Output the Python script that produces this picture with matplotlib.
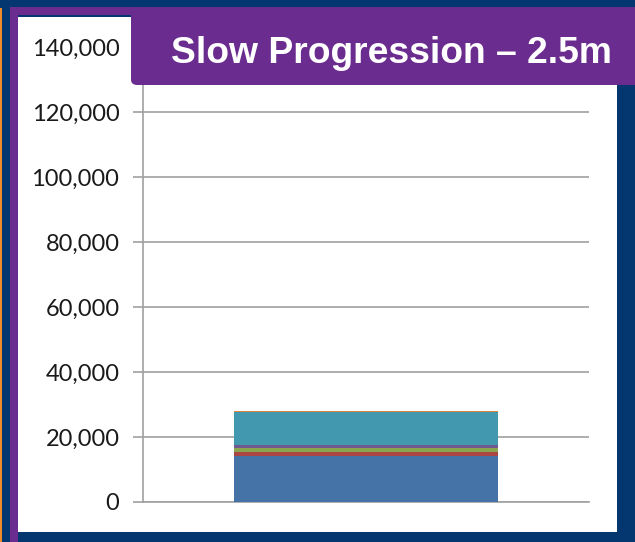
import matplotlib
matplotlib.use("Agg")
import matplotlib.pyplot as plt
from matplotlib.patches import Rectangle, FancyBboxPatch

# stacked components of the single bar (bottom to top)
segments = [14100, 1300, 1350, 900, 10000, 400]
seg_colors = ["#4572A7", "#AA4643", "#89A54E", "#71588F", "#4198AF", "#DB843D"]
y_ticks = [0, 20000, 40000, 60000, 80000, 100000, 120000, 140000]
title = "Slow Progression \u2013 2.5m"

NAVY = "#04366F"
PURPLE = "#6A2C8F"
W, H = 635, 542

fig = plt.figure(figsize=(W / 100, H / 100), dpi=100, facecolor=NAVY)


def px_rect(x0, y0, x1, y1, color, z=-2):
    # pixel coords measured from top-left
    fig.patches.append(Rectangle((x0 / W, 1 - y1 / H), (x1 - x0) / W, (y1 - y0) / H,
                                 transform=fig.transFigure, facecolor=color,
                                 edgecolor="none", zorder=z))


# frame pieces
px_rect(0, 8, 1.5, H, "#F28C28")
px_rect(10, 7, W, 17, PURPLE)
px_rect(10, 7, 18, H, PURPLE)
px_rect(18, 15, 131, 17, NAVY)
px_rect(18, 17, 617, 532, "white")

box = FancyBboxPatch((131 / W, 1 - 85 / H), (W + 20 - 131) / W, (85 - 7) / H,
                     boxstyle="round,pad=0,rounding_size=0.01",
                     transform=fig.transFigure, facecolor=PURPLE, edgecolor="none",
                     zorder=5)
fig.patches.append(box)
fig.text(391 / W, 1 - 63 / H, title, color="white", fontsize=26.8, fontweight="bold",
         family="Liberation Sans", ha="center", va="baseline", zorder=6)

ax = fig.add_axes([143 / W, 1 - 502 / H, (589 - 143) / W, (502 - 47) / H])
ax.set_facecolor("none")
ax.set_zorder(2)

bottom = 0
for v, c in zip(segments, seg_colors):
    ax.bar(0, v, width=0.594, bottom=bottom, color=c, edgecolor="none", zorder=3)
    bottom += v

ax.set_xlim(-0.5, 0.5)
ax.set_ylim(0, 140000)
ax.set_yticks(y_ticks)
ax.set_yticklabels([f"{t:,}" for t in y_ticks], family="Lato", fontsize=17, color="#1a1a1a")
ax.set_xticks([])
ax.grid(axis="y", color="#A0A0A0", linewidth=1.2, zorder=0)
for s in ["top", "right"]:
    ax.spines[s].set_visible(False)
ax.spines["left"].set_color("#A0A0A0")
ax.spines["bottom"].set_color("#A0A0A0")
ax.spines["left"].set_linewidth(1.2)
ax.spines["bottom"].set_linewidth(1.2)
ax.tick_params(axis="y", length=7, width=1.2, color="#A0A0A0", pad=10)

fig.savefig("out.png", dpi=100, facecolor=NAVY)
